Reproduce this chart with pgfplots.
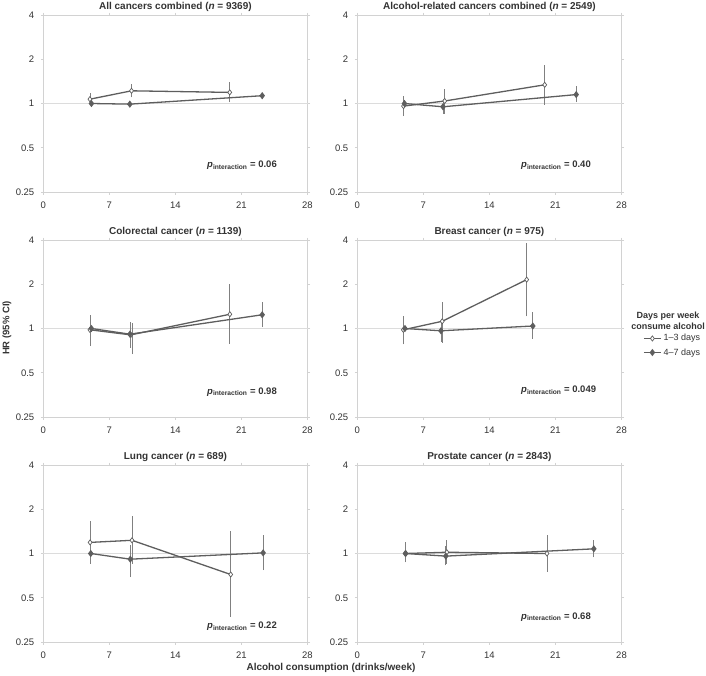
\documentclass[border=0pt]{standalone}
\usepackage{fontspec}
\setmainfont{Liberation Sans}
\usepackage{pgfplots}
\pgfplotsset{compat=1.18}
\pgfkeys{/pgf/number format/assume math mode=true}
\definecolor{boxgray}{HTML}{D2D2D2}
\definecolor{refgray}{HTML}{DCDCDC}
\definecolor{linegray}{HTML}{5E5E5E}
\definecolor{ebargray}{HTML}{808080}
\definecolor{txtgray}{HTML}{333333}
\pgfplotsset{
  every axis title shift=0pt,
  myPanel/.style={
    scale only axis, width=264.2pt, height=177pt,
    xmin=0, xmax=28, ymin=0.25, ymax=4,
    xtick={0,7,14,21,28}, ytick={0.25,0.5,1,2,4}, yticklabels={0.25,0.5,1,2,4},
    axis line style={draw=boxgray, line width=0.8pt},
    major tick length=2.5pt, tick align=outside, tick style={draw=boxgray, line width=0.8pt},
    tick label style={font=\fontsize{9.5}{10}\selectfont, text=txtgray},
    xticklabel style={yshift=-3.5pt},
    yticklabel style={xshift=-3pt},
    title style={font=\bfseries\fontsize{10}{11}\selectfont, text=txtgray, at={(0.5,1)}, anchor=base, yshift=6pt},
    clip=false, unbounded coords=jump
  },
  myEbar/.style={draw=ebargray, line width=0.8pt, forget plot, mark=none},
  myRef/.style={draw=refgray, line width=0.8pt, forget plot, mark=none},
  myOpen/.style={draw=linegray, line width=1.3pt, mark=diamond*, mark size=2.6pt, mark options={fill=white, draw=linegray, line width=0.7pt}},
  myFill/.style={draw=linegray, line width=1.3pt, mark=diamond*, mark size=2.6pt, mark options={fill=linegray, draw=linegray}}
}
\newcommand{\pint}[1]{\textbf{\textit{p}\textsubscript{interaction} = #1}}
\begin{document}
\begin{tikzpicture}
\useasboundingbox (0pt,0pt) rectangle (706pt,-675pt);
% ---------- Panel 1
\begin{axis}[ymode=log, log basis y=2, myPanel, at={(43.3pt,-192pt)}, anchor=south west,
  title={All cancers combined (\textit{n} = 9369)}]
\addplot[myRef] coordinates {(0,1) (28,1)};
\addplot[myEbar] coordinates {(4.94,0.99) (4.94,1.17) (4.94,nan) (9.35,1.10) (9.35,1.36) (9.35,nan) (19.76,1.02) (19.76,1.41)};
\addplot[myEbar] coordinates {(9.17,0.97) (9.17,1.02) (9.17,nan) (23.2,1.08) (23.2,1.18)};
\addplot[myOpen] coordinates {(4.94,1.07) (9.35,1.22) (19.76,1.19)};
\addplot[myFill] coordinates {(5.1,1.0) (9.17,0.99) (23.2,1.13)};
\node[anchor=west, font=\fontsize{9.5}{10}\selectfont, text=txtgray] at (rel axis cs:0.607,0.149) {\pint{0.06}};
\end{axis}
% ---------- Panel 2
\begin{axis}[ymode=log, log basis y=2, myPanel, at={(357.3pt,-192pt)}, anchor=south west,
  title={Alcohol-related cancers combined (\textit{n} = 2549)}]
\addplot[myRef] coordinates {(0,1) (28,1)};
\addplot[myEbar] coordinates {(4.9,0.82) (4.9,1.12) (4.9,nan) (9.26,0.85) (9.26,1.25) (9.26,nan) (19.86,0.98) (19.86,1.84)};
\addplot[myEbar] coordinates {(9.08,0.85) (9.08,1.08) (9.08,nan) (23.2,1.02) (23.2,1.31)};
\addplot[myOpen] coordinates {(4.9,0.96) (9.26,1.04) (19.86,1.34)};
\addplot[myFill] coordinates {(5.0,1.0) (9.08,0.95) (23.2,1.15)};
\node[anchor=west, font=\fontsize{9.5}{10}\selectfont, text=txtgray] at (rel axis cs:0.607,0.149) {\pint{0.40}};
\end{axis}
% ---------- Panel 3
\begin{axis}[ymode=log, log basis y=2, myPanel, at={(43.3pt,-417pt)}, anchor=south west,
  title={Colorectal cancer (\textit{n} = 1139)}]
\addplot[myRef] coordinates {(0,1) (28,1)};
\addplot[myEbar] coordinates {(4.94,0.76) (4.94,1.23) (4.94,nan) (9.4,0.67) (9.4,1.09) (9.4,nan) (19.77,0.79) (19.77,2.01)};
\addplot[myEbar] coordinates {(9.18,0.74) (9.18,1.11) (9.18,nan) (23.2,1.02) (23.2,1.52)};
\addplot[myOpen] coordinates {(4.94,0.98) (9.28,0.905) (19.77,1.25)};
\addplot[myFill] coordinates {(5.1,1.0) (9.18,0.915) (23.2,1.24)};
\node[anchor=west, font=\fontsize{9.5}{10}\selectfont, text=txtgray] at (rel axis cs:0.607,0.143) {\pint{0.98}};
\end{axis}
% ---------- Panel 4
\begin{axis}[ymode=log, log basis y=2, myPanel, at={(357.3pt,-417pt)}, anchor=south west,
  title={Breast cancer (\textit{n} = 975)},
  legend style={at={(1.07,0.49)}, anchor=north west, draw=none, fill=none,
    font=\fontsize{9}{10}\selectfont, text=txtgray, row sep=2pt},
  legend cell align=left]
\addplot[myRef] coordinates {(0,1) (28,1)};
\addplot[myEbar] coordinates {(4.88,0.78) (4.88,1.22) (4.88,nan) (9.0,0.80) (9.0,1.52) (9.0,nan) (17.95,1.21) (17.95,3.81)};
\addplot[myEbar] coordinates {(8.87,0.81) (8.87,1.1) (8.87,nan) (18.6,0.85) (18.6,1.29)};
\addplot[myOpen] coordinates {(4.88,0.98) (9.0,1.12) (17.95,2.15)};
\addlegendentry{1--3 days}
\addplot[myFill] coordinates {(5.05,1.0) (8.87,0.965) (18.6,1.04)};
\addlegendentry{4--7 days}
\node[anchor=west, font=\fontsize{9.5}{10}\selectfont, text=txtgray] at (rel axis cs:0.607,0.149) {\pint{0.049}};
\end{axis}
% ---------- Panel 5
\begin{axis}[ymode=log, log basis y=2, myPanel, at={(43.3pt,-642pt)}, anchor=south west,
  title={Lung cancer (\textit{n} = 689)}]
\addplot[myRef] coordinates {(0,1) (28,1)};
\addplot[myEbar] coordinates {(4.96,0.85) (4.96,1.66) (4.96,nan) (9.4,0.85) (9.4,1.80) (9.4,nan) (19.86,0.37) (19.86,1.43)};
\addplot[myEbar] coordinates {(9.22,0.69) (9.22,1.15) (9.22,nan) (23.3,0.77) (23.3,1.33)};
\addplot[myOpen] coordinates {(4.96,1.19) (9.4,1.23) (19.86,0.72)};
\addplot[myFill] coordinates {(5.03,1.0) (9.22,0.915) (23.3,1.01)};
\node[anchor=west, font=\fontsize{9.5}{10}\selectfont, text=txtgray] at (rel axis cs:0.607,0.09) {\pint{0.22}};
\end{axis}
% ---------- Panel 6
\begin{axis}[ymode=log, log basis y=2, myPanel, at={(357.3pt,-642pt)}, anchor=south west,
  title={Prostate cancer (\textit{n} = 2843)}]
\addplot[myRef] coordinates {(0,1) (28,1)};
\addplot[myEbar] coordinates {(5.06,0.87) (5.06,1.2) (5.06,nan) (9.49,0.85) (9.49,1.23) (9.49,nan) (20.1,0.75) (20.1,1.33)};
\addplot[myEbar] coordinates {(9.38,0.83) (9.38,1.12) (9.38,nan) (25.07,0.94) (25.07,1.23)};
\addplot[myOpen] coordinates {(5.06,1.0) (9.49,1.02) (20.1,1.0)};
\addplot[myFill] coordinates {(5.13,1.0) (9.38,0.96) (25.07,1.076)};
\node[anchor=west, font=\fontsize{9.5}{10}\selectfont, text=txtgray] at (rel axis cs:0.607,0.143) {\pint{0.68}};
\end{axis}
% ---------- shared labels
\node[font=\bfseries\fontsize{9}{11}\selectfont, text=txtgray, align=center] at (668pt,-321pt) {Days per week\\consume alcohol};
\node[font=\bfseries\fontsize{9.5}{10}\selectfont, text=txtgray, rotate=90] at (7pt,-328pt) {HR (95\% CI)};
\node[font=\bfseries\fontsize{10}{11}\selectfont, text=txtgray] at (331pt,-668pt) {Alcohol consumption (drinks/week)};
\end{tikzpicture}
\end{document}
